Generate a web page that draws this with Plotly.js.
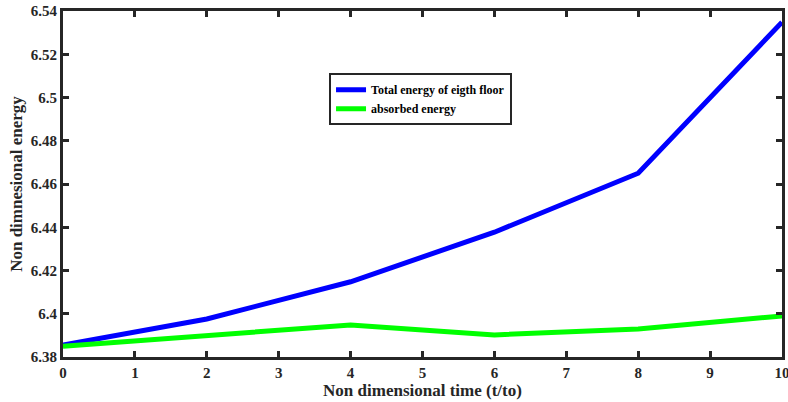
<!DOCTYPE html>
<html><head><meta charset="utf-8">
<script src="https://cdn.plot.ly/plotly-3.0.1.min.js"></script>
<style>body{margin:0;padding:0;background:#fff}#chart{width:788px;height:402px}</style>
</head><body><div id="chart"></div>
<script>
const timeValues = [0, 2, 4, 6, 8, 10];
const totalEnergy = [6.3855, 6.3976, 6.4148, 6.4377, 6.4650, 6.5348];
const absorbedEnergy = [6.3850, 6.3897, 6.3948, 6.3902, 6.3930, 6.3990];
const seriesNames = ['Total energy of eigth floor', 'absorbed energy'];
const xTicks = [0,1,2,3,4,5,6,7,8,9,10];
const yTicks = [6.38,6.40,6.42,6.44,6.46,6.48,6.50,6.52,6.54];
const yTickLabels = ['6.38','6.4','6.42','6.44','6.46','6.48','6.5','6.52','6.54'];

const fam = 'Liberation Serif, serif';
const traces = [
  {x: timeValues, y: totalEnergy, name: seriesNames[0], mode: 'lines', line: {color: '#0000ff', width: 5}},
  {x: timeValues, y: absorbedEnergy, name: seriesNames[1], mode: 'lines', line: {color: '#00ff00', width: 5}}
];
const axisCommon = {showline: true, mirror: 'ticks', linecolor: '#262626', linewidth: 3,
  ticks: 'inside', ticklen: 6, tickwidth: 3, tickcolor: '#262626', showgrid: false, zeroline: false,
  ticklabeloverflow: 'allow',
  tickfont: {family: fam, size: 15, color: '#262626', weight: 'bold'}};
const layout = {
  width: 788, height: 402,
  margin: {l: 63, r: 6, t: 11, b: 45},
  paper_bgcolor: '#fff', plot_bgcolor: '#fff',
  font: {family: fam},
  showlegend: true,
  legend: {x: 0.37, y: 0.82, xanchor: 'left', yanchor: 'top', bgcolor: '#fff', bordercolor: '#262626', borderwidth: 2,
    font: {family: fam, size: 12, color: '#000', weight: 'bold'}, tracegroupgap: 0, itemwidth: 30},
  xaxis: Object.assign({}, axisCommon, {range: [0, 10], tickvals: xTicks,
    title: {text: 'Non dimensional time (t/to)', font: {family: fam, size: 17, color: '#262626', weight: 'bold'}, standoff: 4}}),
  yaxis: Object.assign({}, axisCommon, {range: [6.38, 6.54], tickvals: yTicks, ticktext: yTickLabels,
    title: {text: 'Non dimnesional energy', font: {family: fam, size: 17, color: '#262626', weight: 'bold'}, standoff: 4}})
};
Plotly.newPlot('chart', traces, layout, {displayModeBar: false, staticPlot: true});
</script></body></html>
